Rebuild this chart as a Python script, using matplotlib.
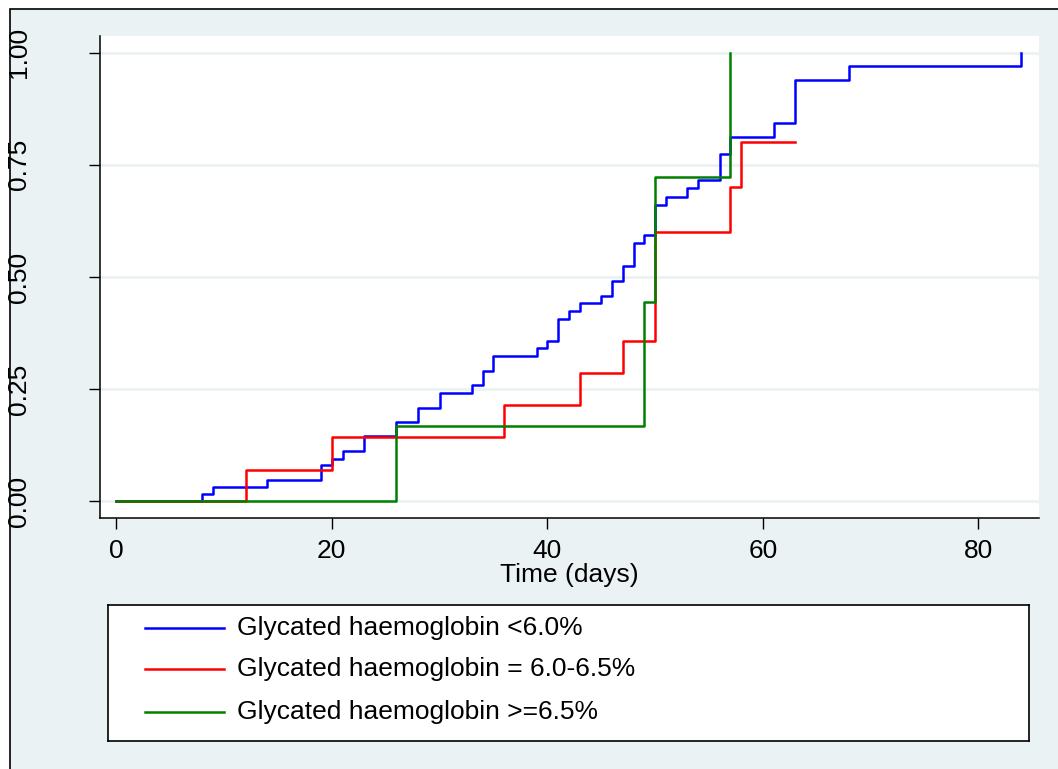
import matplotlib.pyplot as plt
from matplotlib.patches import Rectangle

# ------------------------------------------------------------
# data (cumulative failure, step after each time)
# ------------------------------------------------------------
blue_t = [0, 8, 9, 14, 19, 20, 21, 23, 26, 28, 30, 33, 34, 35, 39, 40, 41,
          42, 43, 45, 46, 47, 48, 49, 50, 51, 53, 54, 56, 57, 61, 63, 68, 84]
blue_v = [0.0, 0.016, 0.032, 0.048, 0.080, 0.095, 0.112, 0.145, 0.177, 0.209,
          0.242, 0.259, 0.291, 0.324, 0.341, 0.358, 0.407, 0.424, 0.441, 0.458,
          0.491, 0.525, 0.575, 0.594, 0.661, 0.679, 0.699, 0.717, 0.774, 0.812,
          0.843, 0.938, 0.970, 1.0]

red_t = [0, 12, 20, 36, 43, 47, 50, 57, 58, 63]
red_v = [0.0, 0.071, 0.143, 0.214, 0.286, 0.357, 0.600, 0.700, 0.800, 0.800]

green_t = [0, 26, 49, 50, 57]
green_v = [0.0, 0.167, 0.444, 0.722, 1.0]

labels = ["Glycated haemoglobin <6.0%",
          "Glycated haemoglobin = 6.0-6.5%",
          "Glycated haemoglobin >=6.5%"]
colors = ["#0000FF", "#FF0000", "#008000"]

x_ticks = [0, 20, 40, 60, 80]
y_ticks = [0.0, 0.25, 0.5, 0.75, 1.0]
y_ticklabels = ["0.00", "0.25", "0.50", "0.75", "1.00"]

# ------------------------------------------------------------
# figure
# ------------------------------------------------------------
plt.rcParams["font.family"] = ["Liberation Sans", "DejaVu Sans"]
BG = "#EAF2F3"
W, H = 1058, 769
FS = 19
LW = 1.8

fig = plt.figure(figsize=(W / 100, H / 100), dpi=100, facecolor="white")
# graph region: tinted, black border on top/left (rest cropped away)
fig.add_artist(Rectangle((10 / W, -0.05), 1.2, 1 - 9 / H + 0.05,
                         transform=fig.transFigure, facecolor=BG,
                         edgecolor="black", lw=1.2, zorder=0))

ax = fig.add_axes([100 / W, 1 - 518 / H, 939 / W, 482 / H])
ax.set_facecolor("white")

series = [(blue_t, blue_v), (red_t, red_v), (green_t, green_v)]
for (t, v), c, lab in zip(series, colors, labels):
    ax.step(t, v, where="post", color=c, lw=LW, label=lab)

ax.set_xlim(-1.51, 85.63)
ax.set_ylim(-0.037, 1.037)
ax.set_xticks(x_ticks)
ax.set_yticks(y_ticks)
ax.set_yticklabels(y_ticklabels, rotation=90, va="center")
ax.yaxis.grid(True, color=BG, lw=2)
ax.set_axisbelow(True)

for side in ("top", "right"):
    ax.spines[side].set_visible(False)
for side in ("left", "bottom"):
    ax.spines[side].set_linewidth(1.1)

ax.tick_params(axis="both", length=8, width=1, labelsize=FS, colors="black")
ax.tick_params(axis="y", pad=42)
ax.tick_params(axis="x", pad=7)
ax.set_xlabel("Time (days)", fontsize=FS, labelpad=0)

# legend box below the plot
lax = fig.add_axes([108 / W, 1 - 741 / H, 921 / W, 136 / H])
lax.set_xlim(0, 1)
lax.set_ylim(0, 1)
lax.set_xticks([])
lax.set_yticks([])
lax.set_facecolor("white")
for s in lax.spines.values():
    s.set_linewidth(1.2)
    s.set_color("black")
rows = [0.831, 0.529, 0.213]
for y, c, lab in zip(rows, colors, labels):
    lax.plot([0.040, 0.126], [y, y], color=c, lw=LW)
    lax.text(0.140, y, lab, fontsize=FS, va="center", ha="left")

fig.savefig("out.png", dpi=100, facecolor=fig.get_facecolor())
